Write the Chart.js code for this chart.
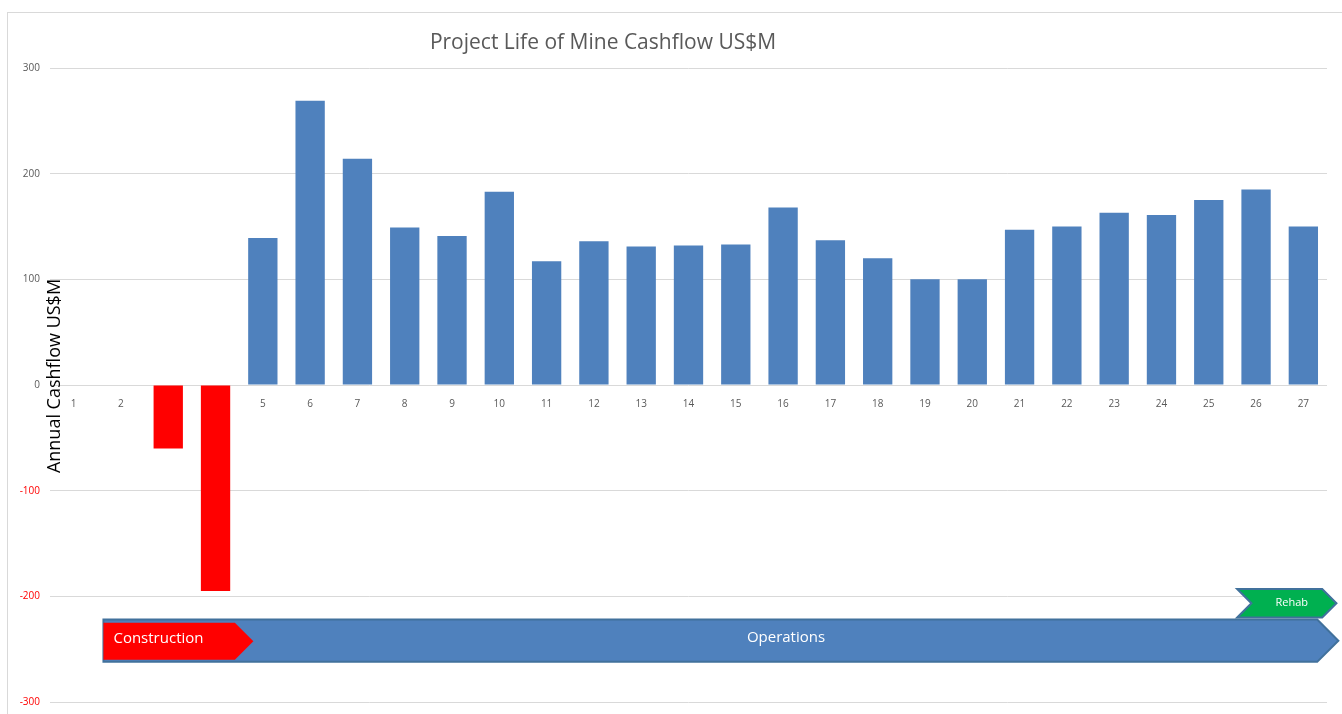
<!DOCTYPE html>
<html>
<head>
<meta charset="utf-8">
<script src="https://cdn.jsdelivr.net/npm/chart.js@4/dist/chart.umd.min.js"></script>
<style>
  html, body { margin: 0; padding: 0; background: #fff; }
  #wrap { position: relative; width: 1342px; height: 714px; }
</style>
</head>
<body>
<div id="wrap"><canvas id="cashChart"></canvas></div>
<script>
// Years of the project
const years = ['1','2','3','4','5','6','7','8','9','10','11','12','13','14','15','16','17','18','19','20','21','22','23','24','25','26','27'];
// Annual cashflow, US$M
const cashflow = [0, 0, -60, -195, 139, 269, 214, 149, 141, 183, 117, 136, 131, 132, 133, 168, 137, 120, 100, 100, 147, 150, 163, 161, 175, 185, 150];
const yTicks = [-300, -200, -100, 0, 100, 200, 300];

// Project phases along the bottom (start/end as year position, band in US$M)
const phaseNames = ['Operations', 'Construction', 'Rehab'];
const phaseStart = [0.63, 0.63, 24.6];
const phaseEnd = [26.74, 3.8, 26.7];
const phaseTop = [-222, -225, -193];
const phaseBottom = [-262, -260, -220];
const phaseColors = ['#4f81bd', '#ff0000', '#00b050'];

const blue = '#4f81bd';
const red = '#ff0000';

// draws title, y-axis title, frame and phase arrows
const extrasPlugin = {
    id: 'extras',
    beforeDraw(chart) {
        const c = chart.ctx;
        c.save();
        c.fillStyle = '#fff';
        c.fillRect(0, 0, chart.width, chart.height);
        c.strokeStyle = '#d9d9d9';
        c.lineWidth = 1;
        c.strokeRect(7.5, 12.5, chart.width, chart.height);
        c.restore();
    },
    afterDatasetsDraw(chart) {
        const c = chart.ctx;
        const x = chart.scales.x;
        const y = chart.scales.y;
        const step = x.getPixelForValue(1) - x.getPixelForValue(0);
        const px = (v) => x.getPixelForValue(0) + v * step;

        c.save();
        // title
        c.fillStyle = '#595959';
        c.font = '21px "Open Sans", sans-serif';
        c.textAlign = 'center';
        c.textBaseline = 'middle';
        c.fillText('Project Life of Mine Cashflow US$M', 603, 43);

        // y axis title
        c.save();
        c.translate(55, 376);
        c.rotate(-Math.PI / 2);
        c.fillStyle = '#000';
        c.font = '18px "Open Sans", sans-serif';
        c.fillText('Annual Cashflow US$M', 0, 0);
        c.restore();

        // phase arrows
        for (let i = 0; i < phaseNames.length; i++) {
            const l = px(phaseStart[i]);
            const r = px(phaseEnd[i]);
            const t = y.getPixelForValue(phaseTop[i]);
            const b = y.getPixelForValue(phaseBottom[i]);
            const m = (t + b) / 2;
            const tip = (b - t) / 2;
            c.beginPath();
            c.moveTo(l, t);
            c.lineTo(r - tip, t);
            c.lineTo(r, m);
            c.lineTo(r - tip, b);
            c.lineTo(l, b);
            if (phaseNames[i] === 'Rehab') {
                c.lineTo(l + tip, m);
            }
            c.closePath();
            c.fillStyle = phaseColors[i];
            c.fill();
            if (phaseNames[i] !== 'Construction') {
                c.strokeStyle = '#41719c';
                c.lineWidth = 2;
                c.stroke();
            }
            c.fillStyle = '#fff';
            if (phaseNames[i] === 'Rehab') {
                c.font = '11px "Open Sans", sans-serif';
                c.textAlign = 'center';
                c.fillText('Rehab', (l + r) / 2 + 5, m);
            } else if (phaseNames[i] === 'Construction') {
                c.font = '15px "Open Sans", sans-serif';
                c.textAlign = 'left';
                c.fillText('Construction', l + 10, m - 3);
            } else {
                c.font = '15px "Open Sans", sans-serif';
                c.textAlign = 'center';
                c.fillText('Operations', 786, m - 3);
            }
        }
        c.restore();
    }
};

const ctx = document.getElementById('cashChart').getContext('2d');
new Chart(ctx, {
    type: 'bar',
    data: {
        labels: years,
        datasets: [{
            data: cashflow,
            backgroundColor: cashflow.map(v => v < 0 ? red : blue),
            barPercentage: 0.62,
            categoryPercentage: 1
        }]
    },
    options: {
        responsive: true,
        maintainAspectRatio: false,
        animation: false,
        layout: { padding: { left: 0, right: 15, top: 68, bottom: 12 } },
        plugins: {
            legend: { display: false },
            tooltip: { enabled: false }
        },
        scales: {
            x: {
                position: { y: 0 },
                grid: { display: false },
                border: { display: false },
                ticks: {
                    color: '#595959',
                    font: { size: 10, family: '"Open Sans", sans-serif' },
                    padding: 5,
                    maxRotation: 0
                }
            },
            y: {
                min: -300,
                max: 300,
                afterFit(scale) {
                    scale.width = 50;
                    scale.paddingTop = 0;
                    scale.paddingBottom = 0;
                },
                afterBuildTicks(scale) { scale.ticks = yTicks.map(v => ({ value: v })); },
                grid: { color: '#d9d9d9', drawTicks: false },
                border: { display: false },
                ticks: {
                    padding: 10,
                    font: { size: 10, family: '"Open Sans", sans-serif' },
                    color: (c) => c.tick.value < 0 ? red : '#595959'
                }
            }
        }
    },
    plugins: [extrasPlugin]
});
</script>
</body>
</html>
